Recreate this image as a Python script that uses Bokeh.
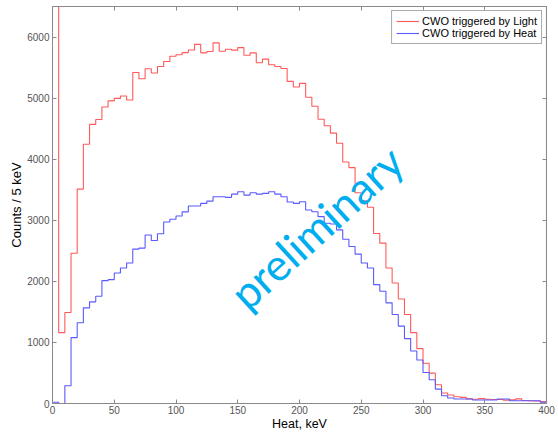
import numpy as np
from bokeh.plotting import figure
from bokeh.models import LinearAxis, Range1d, FixedTicker, Legend, LegendItem, Label
from bokeh.embed import file_html
from bokeh.resources import INLINE

# Histogram bin edges (keV), 5 keV bins
bin_width = 5
red_counts = [9000, 1160, 1490, 2460, 3510, 4245, 4570, 4650, 4855, 4955,
              4995, 5035, 4970, 5420, 5318, 5480, 5410, 5518, 5600, 5685,
              5710, 5745, 5788, 5880, 5741, 5763, 5904, 5768, 5801, 5785,
              5827, 5703, 5741, 5578, 5638, 5546, 5518, 5485, 5274, 5182,
              5241, 5013, 4866, 4655, 4547, 4427, 4262, 3955, 3862, 3450,
              3320, 3212, 2783, 2625, 2218, 1974, 1710, 1458, 1160, 899,
              660, 497, 306, 171, 138, 111, 101, 75, 70, 80,
              70, 65, 65, 55, 60, 75, 50, 45, 40, 30]
blue_counts = [20, 0, 290, 1078, 1322, 1566, 1664, 1756, 2011, 2028,
               2137, 2218, 2300, 2528, 2544, 2760, 2668, 2780, 2972, 3016,
               3070, 3138, 3233, 3233, 3277, 3314, 3385, 3385, 3375, 3428,
               3466, 3412, 3450, 3428, 3440, 3466, 3428, 3385, 3298, 3277,
               3303, 3168, 3140, 3059, 2951, 2940, 2842, 2690, 2570, 2446,
               2300, 2218, 1946, 1837, 1648, 1458, 1267, 1062, 860, 713,
               508, 388, 236, 127, 90, 73, 73, 73, 57, 57,
               57, 57, 73, 73, 46, 46, 46, 46, 46, 20,
               9000]  # last entry: overflow bin at 400 keV
x_ticks = [0, 50, 100, 150, 200, 250, 300, 350, 400]
y_ticks = [0, 1000, 2000, 3000, 4000, 5000, 6000]
series_names = ["CWO triggered by Light", "CWO triggered by Heat"]


def stairs(counts):
    edges = np.arange(len(counts) + 1) * bin_width
    xs = np.repeat(edges, 2)[1:-1]
    ys = np.repeat(np.asarray(counts, dtype=float), 2)
    return xs, ys


p = figure(width=558, height=433, x_range=Range1d(0, 400), y_range=Range1d(0, 6500),
           output_backend="svg", toolbar_location=None,
           min_border_left=52, min_border_right=12, min_border_top=6, min_border_bottom=28)
p.background_fill_color = "white"
p.border_fill_color = "white"
p.outline_line_color = "#8a8a8a"
p.grid.visible = False

rx, ry = stairs(red_counts)
bx, by = stairs(blue_counts)
r_red = p.line(rx, ry, line_color="#ff5a5a", line_width=1.1)
r_blue = p.line(bx, by, line_color="#5a5aff", line_width=1.1)

axis_gray = "#8a8a8a"
label_gray = "#555555"
for ax in [p.xaxis[0], p.yaxis[0]]:
    ax.axis_line_color = axis_gray
    ax.major_tick_line_color = axis_gray
    ax.major_tick_in = 4
    ax.major_tick_out = 0
    ax.minor_tick_line_color = None
    ax.major_label_text_font = "Liberation Sans"
    ax.major_label_text_font_size = "10px"
    ax.major_label_text_color = label_gray
    ax.axis_label_text_font = "Liberation Sans"
    ax.axis_label_text_font_style = "normal"
    ax.axis_label_text_color = "black"

p.xaxis[0].ticker = FixedTicker(ticks=x_ticks)
p.yaxis[0].ticker = FixedTicker(ticks=y_ticks)
p.xaxis[0].axis_label = "Heat, keV"
p.yaxis[0].axis_label = "Counts / 5 keV"
p.xaxis[0].axis_label_text_font_size = "12.5px"
p.yaxis[0].axis_label_text_font_size = "13px"
p.xaxis[0].major_label_standoff = 2
p.xaxis[0].axis_label_standoff = 0
p.yaxis[0].major_label_standoff = 3
p.yaxis[0].axis_label_standoff = 0

# mirrored axes (ticks only) on top and right
top_ax = LinearAxis(ticker=FixedTicker(ticks=x_ticks))
right_ax = LinearAxis(ticker=FixedTicker(ticks=y_ticks))
for ax in [top_ax, right_ax]:
    ax.axis_line_color = axis_gray
    ax.major_tick_line_color = axis_gray
    ax.major_tick_in = 4
    ax.major_tick_out = 0
    ax.minor_tick_line_color = None
    ax.major_label_text_color = None
    ax.major_label_text_font_size = "1px"
    ax.major_label_standoff = 0
p.add_layout(top_ax, "above")
p.add_layout(right_ax, "right")

legend = Legend(items=[LegendItem(label=series_names[0], renderers=[r_red]),
                       LegendItem(label=series_names[1], renderers=[r_blue])],
                location="top_right")
legend.margin = 4
legend.padding = 4
legend.spacing = 0
legend.label_height = 12
legend.glyph_height = 12
legend.glyph_width = 23
legend.label_standoff = 3
legend.label_text_font = "Liberation Sans"
legend.label_text_font_size = "11px"
legend.label_text_color = "black"
legend.border_line_color = "#555555"
legend.border_line_width = 1
legend.background_fill_alpha = 1
p.add_layout(legend)

watermark = Label(x=213.5, y=2890, text="preliminary", angle=0.74,
                  text_align="center", text_baseline="middle",
                  text_font="Lato", text_font_size="44px", text_color="#00aeef")
p.add_layout(watermark)

open("out.html", "w").write(file_html(p, INLINE))
